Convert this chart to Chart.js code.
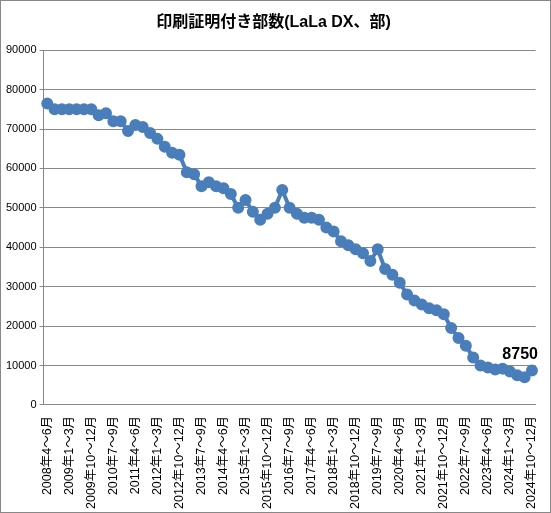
<!DOCTYPE html>
<html><head><meta charset="utf-8">
<script src="https://cdn.jsdelivr.net/npm/chart.js@4"></script>
<style>html,body{margin:0;padding:0;background:#fff}#w{width:549px;height:511px;border:1px solid #888;position:relative}</style>
</head><body><div id="w"><canvas id="c"></canvas></div>
<script>
const values=[76500,75000,75000,75000,75000,75000,75000,73500,74000,72000,72000,69500,71000,70500,69000,67500,65500,64000,63500,59000,58500,55500,56500,55500,55000,53500,50000,52000,49000,47000,48500,50000,54500,50000,48500,47500,47500,47000,45000,44000,41500,40500,39500,38500,36500,39500,34500,33000,31000,28000,26500,25500,24500,24000,23000,19500,17000,15000,12000,10000,9500,9000,9200,8500,7500,7000,8750];
const quarters=["1～3月","4～6月","7～9月","10～12月"];
const categories=[];
for(let i=0;i<values.length;i++){const q=i+1;categories.push((2008+Math.floor(q/4))+"年"+quarters[q%4]);}
const lastLabel="8750";
const F="'Liberation Sans','Noto Sans CJK JP',sans-serif";
const labelPlugin={id:'lbl',afterDatasetsDraw(ch){const m=ch.getDatasetMeta(0).data;const p=m[m.length-1];const c=ch.ctx;c.save();c.font="bold 16px "+F;c.fillStyle="#000";c.textAlign="right";c.textBaseline="bottom";c.fillText(lastLabel,p.x+6,p.y-8);c.restore();}};
new Chart(document.getElementById('c'),{type:'line',data:{labels:categories,datasets:[{data:values,borderColor:'#4a7ebb',backgroundColor:'#4a7ebb',borderWidth:4,pointRadius:4,pointHoverRadius:4,tension:0}]},
options:{responsive:true,maintainAspectRatio:false,animation:false,layout:{padding:{left:2,right:6,top:0,bottom:0}},
plugins:{legend:{display:false},tooltip:{enabled:false},title:{display:true,text:'印刷証明付き部数(LaLa DX、部)',font:{family:F,size:16,weight:'bold'},color:'#000',padding:{top:12,bottom:18}}},
scales:{y:{min:0,max:90000,ticks:{stepSize:10000,font:{family:F,size:11},color:'#000',callback:v=>String(v)},grid:{color:'#888',drawTicks:true,tickLength:4},border:{color:'#888'}},
x:{offset:true,grid:{display:false},border:{color:'#888'},ticks:{autoSkip:false,maxRotation:90,minRotation:90,font:{family:F,size:12.5},color:'#000',callback:(v,i)=>i%3===0?categories[i]:''}}}},
plugins:[labelPlugin]});
</script></body></html>
